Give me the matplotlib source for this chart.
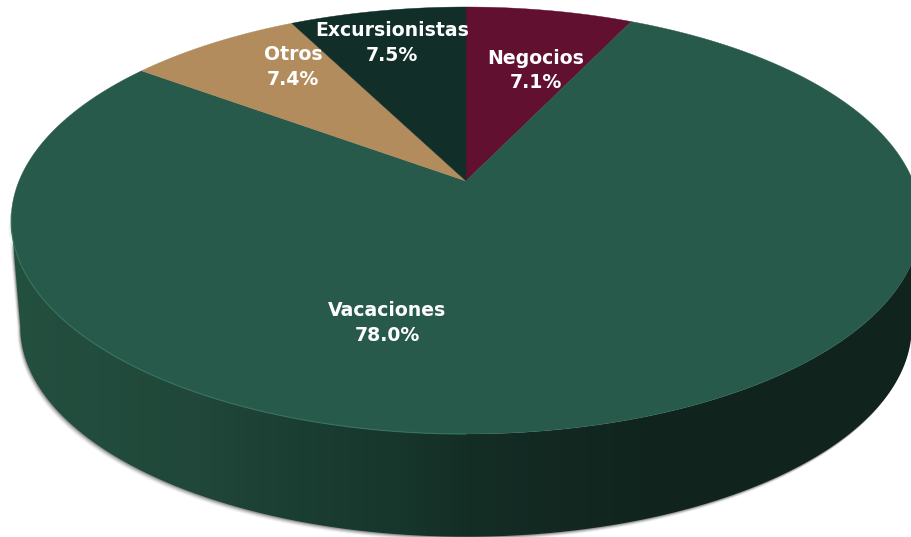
import numpy as np
import matplotlib
matplotlib.use("Agg")
import matplotlib.pyplot as plt
from matplotlib.patches import Polygon

# ---------- Data (clockwise from 12 o'clock) ----------
categories = ['Negocios', 'Vacaciones', 'Otros', 'Excursionistas']
shares = [7.1, 78.0, 7.4, 7.5]

# ---------- Style ----------
slice_colors = ['#611030', '#285a4c', '#b28c5c', '#122e28']
label_xy = [(536, 70.5), (387, 323), (293, 67), (392, 43)]

# pie perspective (pixel units): unit circle -> tilted disc
APEX_X, APEX_Y = 466, 181
RADIUS_X = 447
RADIUS_Y = 172.7
TILT = -0.185
DEPTH = 107
BOTTOM_SCALE = 0.98

WALL_X = [10, 100, 200, 300, 400, 466, 560, 640, 912]
WALL_RGB = np.array([[36, 80, 64], [34, 76, 61], [32, 71, 57], [27, 62, 50], [23, 54, 44],
                     [20, 46, 38], [18, 40, 33], [16, 37, 30], [16, 36, 29]]) / 255


def project(theta, scale=1.0, shift=0.0):
    # theta is clockwise from the top of the pie, in radians
    u, v = np.sin(theta), -np.cos(theta)
    denom = 1 + TILT * v
    x = APEX_X + scale * RADIUS_X * u / denom
    y = (APEX_Y + scale * RADIUS_Y * v) / denom + shift
    return x, y


def main():
    fig = plt.figure(figsize=(9.12, 5.37), dpi=100)
    ax = fig.add_axes([0, 0, 1, 1])

    # ---------- Side wall ----------
    # runs between the widest points of the disc, so the sides come out straight
    t = np.linspace(np.pi * 0.559, np.pi * 1.441, 400)
    x_top, y_top = project(t)
    x_bot, y_bot = project(t, BOTTOM_SCALE, DEPTH)
    wall = np.vstack([np.c_[x_top, y_top], np.c_[x_bot, y_bot][::-1]])

    # soft drop shadow along the lower edge
    for off, alpha in [(4, 0.07), (3, 0.12), (2, 0.20), (1, 0.30)]:
        ax.add_patch(Polygon(wall + [-off * 0.7, off], closed=True, fc='#404040',
                             ec='none', alpha=alpha, zorder=1))

    xs = np.arange(0, 913)
    grad = np.stack([np.interp(xs, WALL_X, WALL_RGB[:, i]) for i in range(3)], axis=-1)
    im = ax.imshow(grad[np.newaxis, :, :], extent=(0, 912, 537, 0), aspect='auto', zorder=2)
    clip = Polygon(wall, closed=True, transform=ax.transData)
    im.set_clip_path(clip)

    # ---------- Top face ----------
    edges = np.cumsum([0] + shares) / sum(shares) * 2 * np.pi
    for i, name in enumerate(categories):
        t = np.linspace(edges[i], edges[i + 1], max(int(shares[i] * 8), 20))
        x, y = project(t)
        pts = np.vstack([[APEX_X, APEX_Y], np.c_[x, y]])
        ax.add_patch(Polygon(pts, closed=True, fc=slice_colors[i], ec=slice_colors[i],
                             lw=0.3, zorder=3))

    # faint light rim on the front left of the top face
    t = np.linspace(np.pi * 1.0, np.pi * 1.45, 120)
    x, y = project(t)
    ax.plot(x, y, color='#34745f', lw=0.9, alpha=0.8, zorder=4)

    # ---------- Labels ----------
    for name, val, (lx, ly) in zip(categories, shares, label_xy):
        ax.text(lx, ly, f"{name}\n{val:.1f}%", color='white', fontsize=13.6,
                fontweight='bold', family='DejaVu Sans', ha='center', va='center',
                linespacing=1.4, zorder=5)

    ax.set_xlim(0, 912)
    ax.set_ylim(537, 0)
    ax.axis('off')
    fig.savefig('out.png', dpi=100)


if __name__ == '__main__':
    main()
